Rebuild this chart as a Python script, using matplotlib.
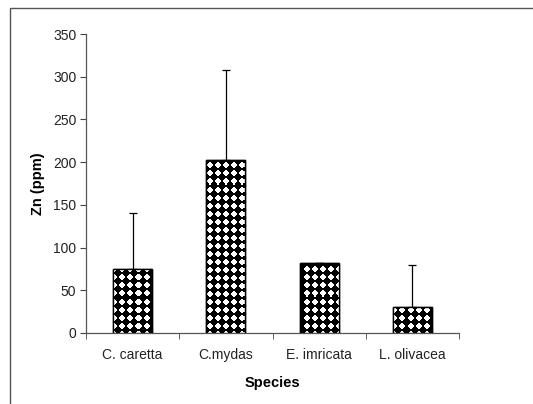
import matplotlib
matplotlib.use("Agg")
import matplotlib.pyplot as plt
from matplotlib.patches import Rectangle
import numpy as np

species = ["C. caretta", "C.mydas", "E. imricata", "L. olivacea"]
zn_mean = [75, 203, 82, 31]
zn_err_up = [65, 105, 0, 49]

plt.rcParams["font.family"] = ["Liberation Sans", "DejaVu Sans"]

fig = plt.figure(figsize=(5.33, 4.04), dpi=100)
ax = fig.add_axes([86 / 533, 1 - 333 / 404, 373 / 533, 299 / 404])
ax.set_xlim(-0.5, len(species) - 0.5)
ax.set_ylim(0, 350)

# white dot texture on black, pixel aligned to the axes (8 px cell)
W, H, cell = 373, 299, 8
yy, xx = np.mgrid[0:H, 0:W]
dx = (xx % cell) - (cell - 1) / 2
dy = (yy % cell) - (cell - 1) / 2
tex = np.where(dx ** 2 + dy ** 2 <= 6.5, 1.0, 0.0)

x = np.arange(len(species))
w = 0.42
bars = ax.bar(x, zn_mean, width=w, color="black", edgecolor="black", lw=1.0, zorder=2)
for b in bars:
    im = ax.imshow(tex, cmap="gray", vmin=0, vmax=1, extent=(-0.5, len(species) - 0.5, 0, 350),
                   aspect="auto", interpolation="nearest", origin="upper", zorder=3)
    im.set_clip_path(b)
ax.bar(x, zn_mean, width=w, color="none", edgecolor="black", lw=1.0, zorder=4)
ax.errorbar(x, zn_mean, yerr=[np.zeros(len(x)), zn_err_up], fmt="none",
            ecolor="black", elinewidth=0.9, capsize=3, capthick=0.9, zorder=1)

ax.set_yticks(range(0, 351, 50))
ax.set_xticks(x)
ax.set_xticklabels(species, fontsize=10, color="#222222")
ax.set_xticks(np.arange(-0.5, len(species)), minor=True)
ax.tick_params(axis="x", which="major", length=0, pad=11)
ax.tick_params(axis="x", which="minor", length=4, color="#444444")
ax.tick_params(axis="y", length=4, labelsize=10, labelcolor="#222222", color="#444444", pad=3)
for s in ("top", "right"):
    ax.spines[s].set_visible(False)
for s in ("left", "bottom"):
    ax.spines[s].set_color("#555555")
    ax.spines[s].set_linewidth(0.9)
ax.set_ylabel("Zn (ppm)", fontsize=10.5, fontweight="bold", labelpad=6)
ax.set_xlabel("Species", fontsize=10.5, fontweight="bold", labelpad=10)

fig.add_artist(Rectangle((10 / 533, -0.1), 1.2, 1.1 - 8 / 404,
                         transform=fig.transFigure, fill=False,
                         edgecolor="#555555", lw=1.0))

fig.savefig("out.png", dpi=100)
